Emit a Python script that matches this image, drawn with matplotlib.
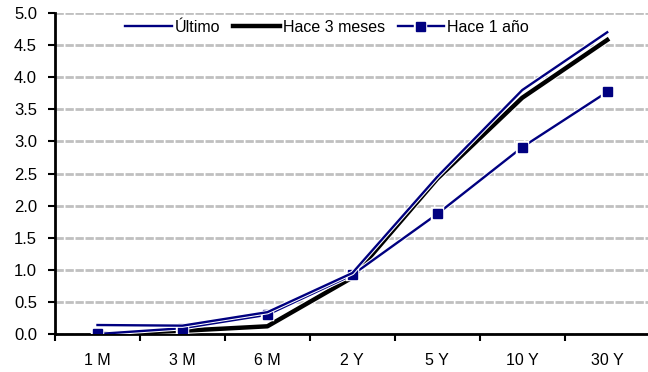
import matplotlib.pyplot as plt
import matplotlib.patheffects as pe
import numpy as np

plt.rcParams['font.family'] = ['Liberation Sans', 'DejaVu Sans']

plazos = ['1 M', '3 M', '6 M', '2 Y', '5 Y', '10 Y', '30 Y']
ultimo = [0.14, 0.13, 0.34, 0.95, 2.45, 3.80, 4.70]
hace_3m = [0.0, 0.05, 0.12, 0.88, 2.42, 3.68, 4.58]
hace_1a = [0.0, 0.09, 0.30, 0.92, 1.87, 2.91, 3.77]

x = np.arange(len(plazos))
navy = '#000080'
borde = [pe.Stroke(linewidth=3.2, foreground='white'), pe.Normal()]

fig = plt.figure(figsize=(6.48, 3.72), dpi=100)
ax = fig.add_axes([55/648, 38/372, 593/648, 321/372])

ax.plot(x, hace_3m, color='black', lw=3.2, label='Hace 3 meses', zorder=3,
        path_effects=[pe.Stroke(linewidth=4.6, foreground='white'), pe.Normal()])
ax.plot(x, hace_1a, color=navy, lw=1.7, marker='s', ms=6.5, label='Hace 1 año',
        zorder=4, path_effects=borde)
ax.plot(x, ultimo, color=navy, lw=1.7, label='Último', zorder=5,
        path_effects=borde)

ax.set_xlim(-0.5, 6.48)
ax.set_ylim(0, 5)
ax.set_yticks(np.arange(0, 5.01, 0.5))
ax.set_yticklabels([f'{v:.1f}' for v in np.arange(0, 5.01, 0.5)])
ax.set_xticks(x)
ax.set_xticklabels(plazos)
ax.set_xticks(np.arange(-0.5, 6.5, 1), minor=True)
ax.tick_params(axis='x', which='major', length=0, pad=14, labelsize=11.5)
ax.tick_params(axis='x', which='minor', length=5, width=1.5, direction='out')
ax.tick_params(axis='y', length=5, width=1.5, labelsize=12, pad=8)

ax.yaxis.grid(True, color='#c0c0c0', lw=2, ls=(0, (3, 0.6)))
ax.set_axisbelow(True)
for s in ['top', 'right']:
    ax.spines[s].set_visible(False)
for s in ['left', 'bottom']:
    ax.spines[s].set_linewidth(2)
ax.spines['bottom'].set_zorder(2.5)

h, l = ax.get_legend_handles_labels()
orden = [2, 0, 1]
ax.legend([h[i] for i in orden], [l[i] for i in orden], loc='center',
          bbox_to_anchor=(0.459, 0.955), ncol=3, frameon=True, edgecolor='none',
          facecolor='white', framealpha=1, fontsize=11.5, handlelength=2.9,
          columnspacing=0.8, handletextpad=0.2, borderpad=0.2)

fig.savefig('out.png', dpi=100)
